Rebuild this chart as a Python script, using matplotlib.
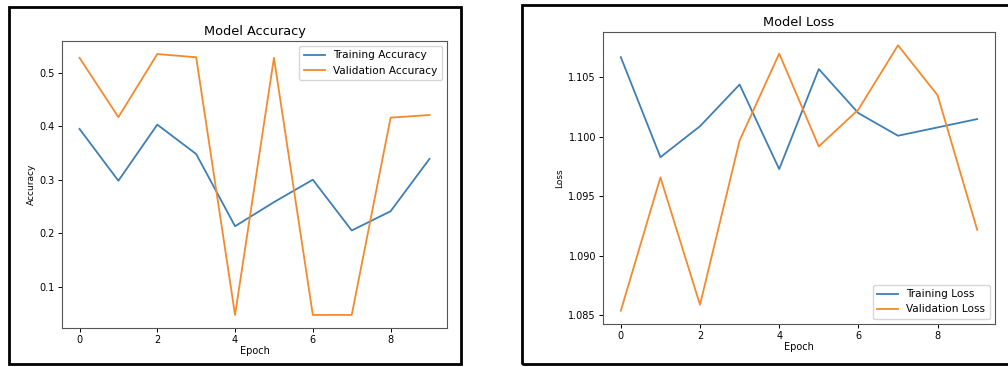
import matplotlib.pyplot as plt
from matplotlib.patches import Rectangle

epochs = list(range(10))

train_acc = [0.395, 0.298, 0.403, 0.348, 0.213, 0.258, 0.300, 0.205, 0.241, 0.339]
val_acc = [0.528, 0.417, 0.535, 0.529, 0.047, 0.528, 0.047, 0.047, 0.416, 0.421]

train_loss = [1.1067, 1.0983, 1.1009, 1.1044, 1.0973, 1.1057, 1.1020, 1.1001, 1.1008, 1.1015]
val_loss = [1.0854, 1.0966, 1.0859, 1.0997, 1.1070, 1.0992, 1.1023, 1.1077, 1.1035, 1.0922]

W, H = 1008, 367
fig = plt.figure(figsize=(W / 100, H / 100), dpi=100)


def px_axes(x0, y0, x1, y1):
    # pixel box (top-left origin) -> figure fraction
    return fig.add_axes([x0 / W, 1 - y1 / H, (x1 - x0) / W, (y1 - y0) / H])


# black frames round each screenshot
fig.patches.append(Rectangle((9 / W, 1 - 364 / H), (461 - 9) / W, (364 - 7) / H,
                             transform=fig.transFigure, fill=False, lw=2, ec="black"))
fig.patches.append(Rectangle((522 / W, 1 - 364 / H), (1012 - 522) / W, (364 - 5) / H,
                             transform=fig.transFigure, fill=False, lw=2, ec="black"))

# accuracy
ax1 = px_axes(62, 41, 447, 328)
ax1.plot(epochs, train_acc, label="Training Accuracy", lw=1.3, color="#3d7fb5")
ax1.plot(epochs, val_acc, label="Validation Accuracy", lw=1.3, color="#f5892c")
ax1.set_title("Model Accuracy", fontsize=9.3, pad=4)
ax1.set_xlabel("Epoch", fontsize=7, labelpad=1)
ax1.set_ylabel("Accuracy", fontsize=6.5, labelpad=3)
ax1.set_xticks([0, 2, 4, 6, 8])
ax1.set_yticks([0.1, 0.2, 0.3, 0.4, 0.5])
ax1.tick_params(labelsize=7, width=0.7, length=3, pad=2)
ax1.legend(loc="upper right", fontsize=7.6)

# loss
ax2 = px_axes(603, 32, 995, 324)
ax2.plot(epochs, train_loss, label="Training Loss", lw=1.3, color="#3d7fb5")
ax2.plot(epochs, val_loss, label="Validation Loss", lw=1.3, color="#f5892c")
ax2.set_title("Model Loss", fontsize=9.3, pad=4)
ax2.set_xlabel("Epoch", fontsize=7, labelpad=1)
ax2.set_ylabel("Loss", fontsize=6.5, labelpad=3)
ax2.set_xticks([0, 2, 4, 6, 8])
ax2.set_yticks([1.085, 1.090, 1.095, 1.100, 1.105])
ax2.set_yticklabels(["1.085", "1.090", "1.095", "1.100", "1.105"])
ax2.tick_params(labelsize=7, width=0.7, length=3, pad=2)
ax2.legend(loc="lower right", fontsize=7.6)

for ax in (ax1, ax2):
    for s in ax.spines.values():
        s.set_linewidth(0.8)
        s.set_color("#555555")

fig.savefig("out.png", dpi=100)
